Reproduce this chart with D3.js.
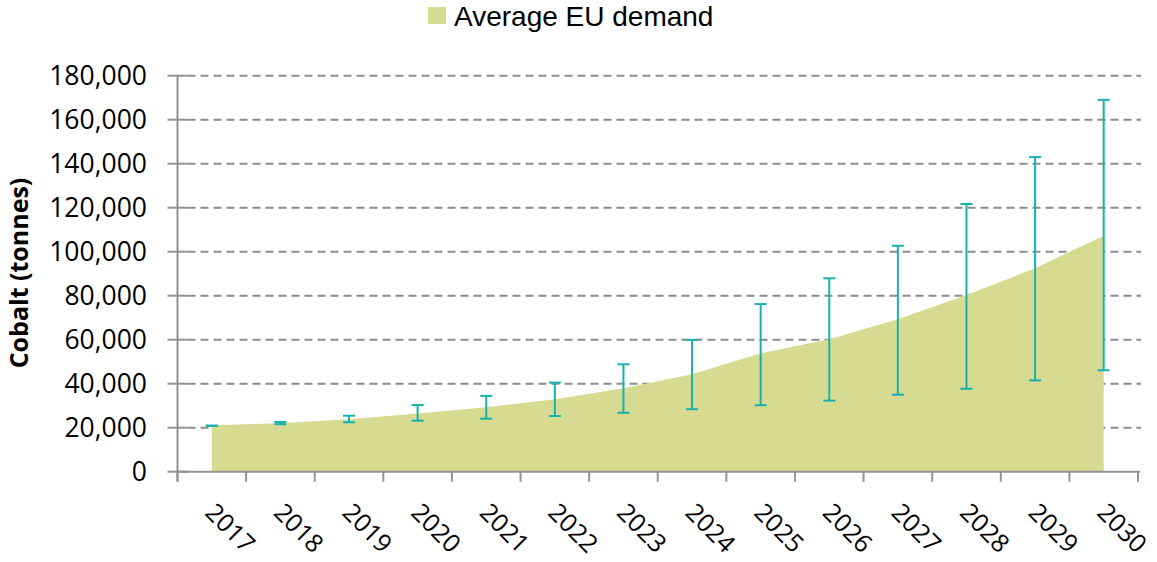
<html>
<head>
<meta charset="utf-8">
<title>Cobalt demand</title>
<style>
  body { margin: 0; background: #fff; }
  text { font-family: "Open Sans", sans-serif; }
</style>
</head>
<body>
<svg width="1157" height="562"></svg>
<script src="https://d3js.org/d3.v7.min.js"></script>
<script>
// values (tonnes of cobalt)
var years = ["2017","2018","2019","2020","2021","2022","2023","2024","2025","2026","2027","2028","2029","2030"];
var avgDemand = [21100, 22000, 23800, 26500, 29300, 32900, 37900, 44300, 53800, 60200, 69300, 80300, 92500, 107300];
var lowDemand = [20800, 21600, 22450, 23200, 24100, 25300, 26800, 28400, 30200, 32300, 35000, 37700, 41500, 46100];
var highDemand = [21000, 22600, 25450, 30300, 34450, 40500, 48800, 59900, 76200, 87900, 102700, 121700, 143000, 169000];
var yTicks = [0, 20000, 40000, 60000, 80000, 100000, 120000, 140000, 160000, 180000];

var svg = d3.select('svg');
var plotL = 177.5, plotR = 1138, plotT = 75.7, plotB = 471.7;
var axisCol = '#929292', areaCol = '#d7db92', errCol = '#17b2ab';

var x = d3.scaleBand().domain(years).range([plotL, plotR]).paddingInner(0).paddingOuter(0);
var y = d3.scaleLinear().domain([0, 180000]).range([plotB, plotT]);
var cx = function(yr){ return x(yr) + x.bandwidth()/2; };

var rows = years.map(function(yr, i){ return {yr: yr, avg: avgDemand[i], lo: lowDemand[i], hi: highDemand[i]}; });

// dashed gridlines
svg.append('g').selectAll('line')
  .data(yTicks.filter(function(d){ return d > 0; }))
  .enter().append('line')
  .attr('x1', plotL + 10).attr('x2', 1141)
  .attr('y1', function(d){ return y(d); }).attr('y2', function(d){ return y(d); })
  .attr('stroke', '#8c8c8c').attr('stroke-width', 2).attr('stroke-dasharray', '8,5');

// area
var area = d3.area()
  .x(function(d){ return cx(d.yr); })
  .y0(y(0))
  .y1(function(d){ return y(d.avg); });
svg.append('path').datum(rows).attr('d', area).attr('fill', areaCol);

// error bars
var eb = svg.append('g').selectAll('g').data(rows).enter().append('g');
eb.append('line')
  .attr('x1', function(d){ return cx(d.yr); }).attr('x2', function(d){ return cx(d.yr); })
  .attr('y1', function(d){ return y(d.lo); }).attr('y2', function(d){ return y(d.hi); })
  .attr('stroke', errCol).attr('stroke-width', 2);
['lo','hi'].forEach(function(k){
  eb.append('line')
    .attr('x1', function(d){ return cx(d.yr) - 6; }).attr('x2', function(d){ return cx(d.yr) + 6; })
    .attr('y1', function(d){ return y(d[k]); }).attr('y2', function(d){ return y(d[k]); })
    .attr('stroke', errCol).attr('stroke-width', 2);
});

// y axis
svg.append('line').attr('x1', plotL).attr('x2', plotL).attr('y1', plotT).attr('y2', plotB + 10)
  .attr('stroke', axisCol).attr('stroke-width', 2);
svg.append('g').selectAll('line').data(yTicks).enter().append('line')
  .attr('x1', plotL - 10).attr('x2', plotL + 10)
  .attr('y1', function(d){ return y(d); }).attr('y2', function(d){ return y(d); })
  .attr('stroke', axisCol).attr('stroke-width', 2);
svg.append('g').selectAll('text').data(yTicks).enter().append('text')
  .text(function(d){ return d3.format(',')(d); })
  .attr('x', 147).attr('y', function(d){ return y(d) + 9; })
  .attr('text-anchor', 'end').attr('font-size', '26.5px').attr('fill', '#000');

// x axis
svg.append('line').attr('x1', plotL).attr('x2', 1140).attr('y1', plotB).attr('y2', plotB)
  .attr('stroke', axisCol).attr('stroke-width', 2);
svg.append('g').selectAll('line').data(years.concat(['end'])).enter().append('line')
  .attr('x1', function(d, i){ return plotL + i*x.bandwidth(); })
  .attr('x2', function(d, i){ return plotL + i*x.bandwidth(); })
  .attr('y1', plotB).attr('y2', plotB + 10)
  .attr('stroke', axisCol).attr('stroke-width', 2);
svg.append('g').selectAll('text').data(years).enter().append('text')
  .text(function(d){ return d; })
  .attr('transform', function(d){ return 'translate(' + (cx(d) - 8) + ',514) rotate(45)'; })
  .attr('font-size', '25px').attr('fill', '#000');

// axis title
svg.append('text').text('Cobalt (tonnes)')
  .attr('transform', 'translate(28,273) rotate(-90)')
  .attr('text-anchor', 'middle').attr('font-size', '25px').attr('font-weight', 'bold').attr('fill', '#000');

// legend
svg.append('rect').attr('x', 428).attr('y', 7).attr('width', 18).attr('height', 17).attr('fill', areaCol);
svg.append('text').text('Average EU demand').attr('x', 454).attr('y', 26)
  .style('font-family', '"Liberation Sans", sans-serif')
  .attr('font-size', '28px').attr('fill', '#000');
</script>
</body>
</html>
